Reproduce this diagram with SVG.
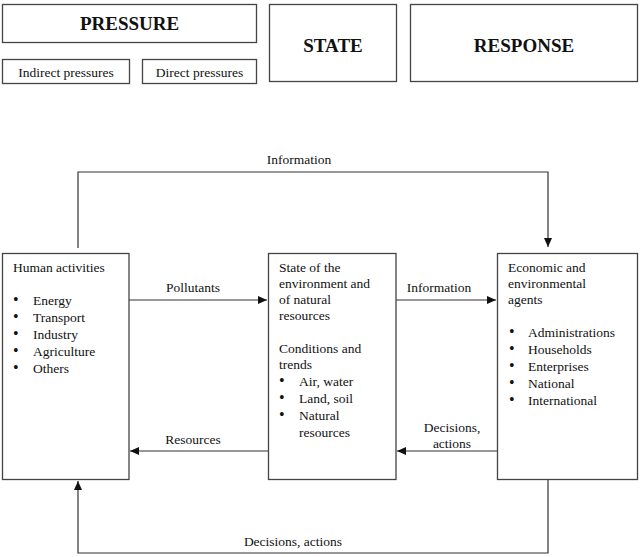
<svg xmlns="http://www.w3.org/2000/svg" width="640" height="557" viewBox="0 0 640 557">
<style>
.box{fill:#fff;stroke:#444;stroke-width:1.3}
.t{font-size:13.5px;fill:#111}
.b{font-size:16px;fill:#111}
.h{font-size:19px;font-weight:bold;fill:#111}
.c{fill:none;stroke:#333;stroke-width:1.2}
.m{text-anchor:middle}
</style>
<defs>
<marker id="ah" markerWidth="10" markerHeight="10" refX="9" refY="5" orient="auto" markerUnits="userSpaceOnUse">
<path d="M0,1 L9,5 L0,9 Z" fill="#111"/>
</marker>
</defs>
<rect width="640" height="557" fill="#fff"/>
<g font-family="'Liberation Serif', 'Times New Roman', serif">
<g id="pressure"><rect class="box" x="2.5" y="4.5" width="254" height="38"/><text class="h m" x="129.5" y="30">PRESSURE</text></g>
<g id="indirect"><rect class="box" x="2.5" y="59.5" width="127" height="24"/><text class="t m" x="66" y="77">Indirect pressures</text></g>
<g id="direct"><rect class="box" x="142.5" y="59.5" width="114" height="24"/><text class="t m" x="199.5" y="77">Direct pressures</text></g>
<g id="state"><rect class="box" x="269.5" y="4.5" width="127" height="77"/><text class="h m" x="333" y="52">STATE</text></g>
<g id="response"><rect class="box" x="410.5" y="4.5" width="227" height="77"/><text class="h m" x="524" y="52">RESPONSE</text></g>

<g id="connectors">
<line class="c" x1="129" y1="300" x2="267" y2="300" marker-end="url(#ah)"/>
<line class="c" x1="396" y1="300" x2="496" y2="300" marker-end="url(#ah)"/>
<line class="c" x1="497" y1="451" x2="397" y2="451" marker-end="url(#ah)"/>
<line class="c" x1="268" y1="451" x2="130" y2="451" marker-end="url(#ah)"/>
<polyline class="c" points="78,248 78,172 548,172 548,247" marker-end="url(#ah)"/>
<polyline class="c" points="548,480 548,553 78,553 78,481" marker-end="url(#ah)"/>
<text class="t m" x="299" y="164">Information</text>
<text class="t m" x="193" y="292">Pollutants</text>
<text class="t m" x="439" y="292">Information</text>
<text class="t m" x="193" y="444">Resources</text>
<text class="t m" x="452" y="432">Decisions,</text>
<text class="t m" x="452" y="448">actions</text>
<text class="t m" x="293" y="546">Decisions, actions</text>
</g>

<g id="human">
<rect class="box" x="2.5" y="253.5" width="126.5" height="226"/>
<text class="t" x="13" y="272">Human activities</text>
<text class="b" x="13" y="305">•</text><text class="t" x="33" y="305">Energy</text>
<text class="b" x="13" y="322">•</text><text class="t" x="33" y="322">Transport</text>
<text class="b" x="13" y="339">•</text><text class="t" x="33" y="339">Industry</text>
<text class="b" x="13" y="356">•</text><text class="t" x="33" y="356">Agriculture</text>
<text class="b" x="13" y="373">•</text><text class="t" x="33" y="373">Others</text>
</g>

<g id="environment">
<rect class="box" x="268.5" y="253.5" width="127.5" height="226"/>
<text class="t" x="279" y="272">State of the</text>
<text class="t" x="279" y="288">environment and</text>
<text class="t" x="279" y="304">of natural</text>
<text class="t" x="279" y="320">resources</text>
<text class="t" x="279" y="353">Conditions and</text>
<text class="t" x="279" y="369">trends</text>
<text class="b" x="279" y="386">•</text><text class="t" x="299" y="386">Air, water</text>
<text class="b" x="279" y="403">•</text><text class="t" x="299" y="403">Land, soil</text>
<text class="b" x="279" y="420">•</text><text class="t" x="299" y="420">Natural</text>
<text class="t" x="299" y="437">resources</text>
</g>

<g id="agents">
<rect class="box" x="497.5" y="253.5" width="140" height="226"/>
<text class="t" x="508" y="272">Economic and</text>
<text class="t" x="508" y="288">environmental</text>
<text class="t" x="508" y="304">agents</text>
<text class="b" x="509" y="337">•</text><text class="t" x="528" y="337">Administrations</text>
<text class="b" x="509" y="354">•</text><text class="t" x="528" y="354">Households</text>
<text class="b" x="509" y="371">•</text><text class="t" x="528" y="371">Enterprises</text>
<text class="b" x="509" y="388">•</text><text class="t" x="528" y="388">National</text>
<text class="b" x="509" y="405">•</text><text class="t" x="528" y="405">International</text>
</g>
</g>
</svg>
